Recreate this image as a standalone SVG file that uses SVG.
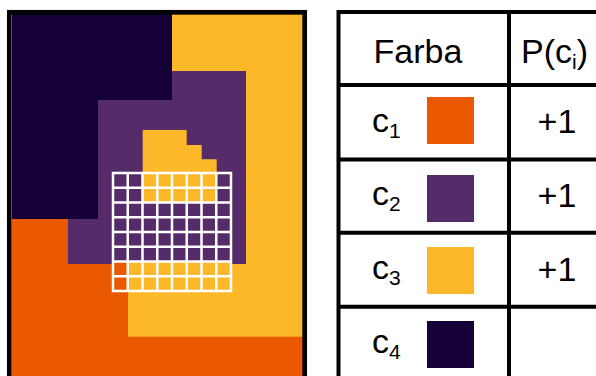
<svg xmlns="http://www.w3.org/2000/svg" width="596" height="376" viewBox="0 0 596 376">
<defs>
<style>
.d{fill:#160038}.p{fill:#552c69}.o{fill:#ea5800}.y{fill:#fcb829}
.t{font-family:"Liberation Sans",Arial,sans-serif;font-size:34px;fill:#000}
.sub{font-size:21px}
.ln{stroke:#000;stroke-width:4;fill:none}
.g{stroke:#fff;stroke-width:2.5;fill:none}
</style>
</defs>
<rect width="596" height="376" fill="#fff"/>
<g id="image">
<rect class="y" x="12" y="14" width="291" height="362"/>
<polygon class="d" points="12,14 172,14 172,100 98,100 98,219 12,219"/>
<polygon class="p" points="172,71 246,71 246,264 68,264 68,219 98,219 98,100 172,100"/>
<polygon class="y" points="142.7,130 186.7,130 186.7,145 201.7,145 201.7,159.3 216.7,159.3 216.7,200 142.7,200"/>
<polygon class="o" points="12,219 68,219 68,264 128,264 128,336.7 303,336.7 303,376 12,376"/>
<g id="grid">
<rect x="112" y="172" width="120" height="120" fill="#fff"/>
<g class="p">
<rect x="113" y="173" width="29.5" height="29.5"/>
<rect x="216.25" y="173" width="14.75" height="29.5"/>
<rect x="113" y="202.5" width="118" height="59"/>
</g>
<rect class="y" x="142.5" y="173" width="73.75" height="29.5"/>
<rect class="o" x="113" y="261.5" width="14.75" height="29.5"/>
<rect class="y" x="127.75" y="261.5" width="103.25" height="29.5"/>
<path class="g" d="M113,172v120M127.75,172v120M142.5,172v120M157.25,172v120M172,172v120M186.75,172v120M201.5,172v120M216.25,172v120M231,172v120M112,173h120M112,187.75h120M112,202.5h120M112,217.25h120M112,232h120M112,246.75h120M112,261.5h120M112,276.25h120M112,291h120"/>
</g>
<rect x="9.3" y="12.3" width="295.4" height="380" fill="none" stroke="#000" stroke-width="4.7"/>
</g>
<g id="table">
<path class="ln" d="M338.5,10V376M509,10V376M336.5,12H596M336.5,85H596M336.5,159.5H596M336.5,232.7H596M336.5,306.7H596"/>
<text class="t" x="418" y="62.5" text-anchor="middle">Farba</text>
<text class="t" x="521" y="62.5">P(c<tspan class="sub" dy="6">i</tspan><tspan dy="-6">)</tspan></text>
<g id="row1">
<text class="t" x="372" y="131.5">c<tspan class="sub" dy="6">1</tspan></text>
<rect class="o" x="427" y="97" width="47" height="47"/>
<text class="t" x="557" y="133.3" text-anchor="middle">+1</text>
</g>
<g id="row2">
<text class="t" x="372" y="205.3">c<tspan class="sub" dy="6">2</tspan></text>
<rect class="p" x="427" y="175" width="47" height="47"/>
<text class="t" x="557" y="207" text-anchor="middle">+1</text>
</g>
<g id="row3">
<text class="t" x="372" y="279">c<tspan class="sub" dy="6">3</tspan></text>
<rect class="y" x="427" y="247" width="47" height="47"/>
<text class="t" x="557" y="281" text-anchor="middle">+1</text>
</g>
<g id="row4">
<text class="t" x="372" y="352.8">c<tspan class="sub" dy="6">4</tspan></text>
<rect class="d" x="427" y="321" width="47" height="47"/>
</g>
</g>
</svg>
